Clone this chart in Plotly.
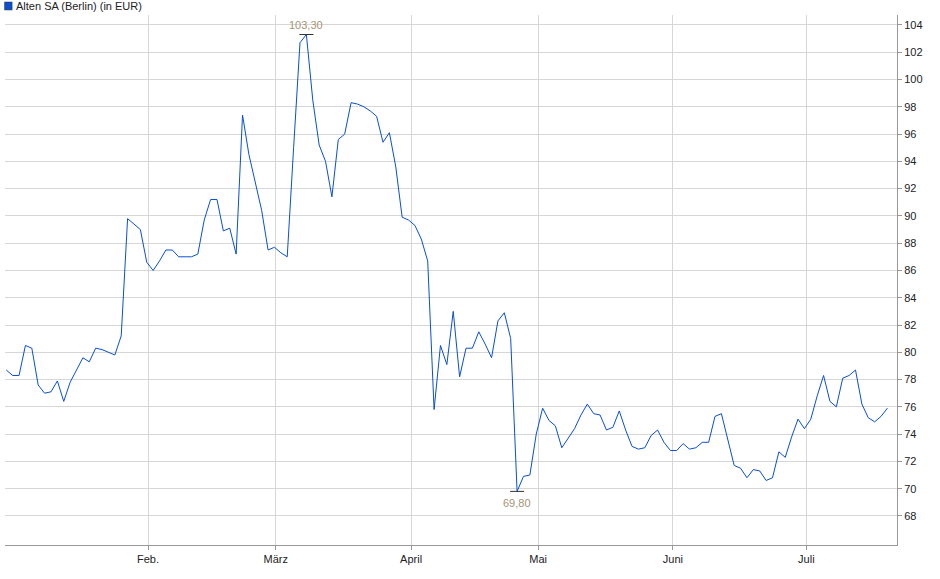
import plotly.graph_objects as go

values = [78.7,78.3,78.3,80.5,80.3,77.6,77.0,77.1,77.9,76.4,77.8,78.7,79.6,79.3,80.3,80.2,80.0,79.8,81.2,89.8,
89.4,89.0,86.6,86.0,86.7,87.5,87.5,87.0,87.0,87.0,87.2,89.7,91.2,91.2,88.9,89.1,87.2,97.4,94.5,92.5,
90.4,87.5,87.7,87.3,87.0,95.0,102.7,103.3,98.5,95.2,94.0,91.4,95.6,96.0,98.3,98.2,98.0,97.7,97.3,95.4,
96.1,93.6,89.9,89.7,89.3,88.3,86.7,75.8,80.5,79.1,83.0,78.2,80.3,80.3,81.5,80.6,79.6,82.3,82.9,81.0,
69.8,70.9,71.0,74.0,75.9,75.0,74.6,73.0,73.7,74.4,75.4,76.2,75.5,75.4,74.3,74.5,75.7,74.3,73.1,72.9,
73.0,73.9,74.3,73.4,72.8,72.8,73.3,72.9,73.0,73.4,73.4,75.3,75.5,73.7,71.7,71.5,70.8,71.4,71.3,70.6,
70.8,72.7,72.3,73.8,75.1,74.4,75.1,76.8,78.3,76.4,76.0,78.1,78.3,78.7,76.2,75.2,74.9,75.3,75.9]
x = list(range(len(values)))
month_pos = [22.2, 42.2, 63.4, 83.3, 104.4, 125.3]
month_labels = ["Feb.", "März", "April", "Mai", "Juni", "Juli"]
y_ticks = list(range(68, 105, 2))
series_name = "Alten SA (Berlin) (in EUR)"

imax = values.index(max(values)); imin = values.index(min(values))
fmt = lambda v: f"{v:.2f}".replace(".", ",")

fig = go.Figure()
fig.add_trace(go.Scatter(x=x, y=values, mode="lines", line=dict(color="#0a4fd0", width=1),
                         showlegend=False))
fig.add_trace(go.Scatter(x=[imax, imin], y=[values[imax], values[imin]], mode="markers",
                         marker=dict(symbol="line-ew", size=10, line=dict(color="#333", width=1)),
                         showlegend=False, hoverinfo="skip"))
fig.add_annotation(x=imax, y=values[imax], text=fmt(values[imax]), showarrow=False, yshift=10,
                   font=dict(color="#a89276", size=11))
fig.add_annotation(x=imin, y=values[imin], text=fmt(values[imin]), showarrow=False, yshift=-12,
                   font=dict(color="#a89276", size=11))
fig.add_shape(type="rect", xref="paper", yref="paper", x0=-0.0005, x1=0.008, y0=1.0095, y1=1.0245,
              fillcolor="#0a4fd0", line=dict(color="#333", width=0.5))
fig.add_annotation(xref="paper", yref="paper", x=0.010, y=1.017, xanchor="left", yanchor="middle",
                   text=series_name, showarrow=False, font=dict(size=11, color="#222"))
fig.update_layout(
    width=940, height=579, paper_bgcolor="white", plot_bgcolor="white",
    margin=dict(l=5, r=43, t=15, b=34, autoexpand=False),
    font=dict(family="Liberation Sans, Arial", size=11, color="#222"),
    xaxis=dict(range=[-0.2, 139.5], tickvals=month_pos, ticktext=month_labels, showgrid=True,
               gridcolor="#d6d6d6", showline=True, linecolor="#999", ticks="outside", ticklen=4,
               tickcolor="#999", zeroline=False, automargin=False),
    yaxis=dict(range=[65.87, 104.73], side="right", tickvals=y_ticks, ticktext=[str(v) for v in y_ticks],
               showgrid=True, gridcolor="#d6d6d6", showline=True, linecolor="#999", ticks="outside",
               ticklen=4, tickcolor="#999", zeroline=False, automargin=False),
)
fig.write_html("out.html", config={"displayModeBar": False},
               post_script="document.body.style.margin='0';")
